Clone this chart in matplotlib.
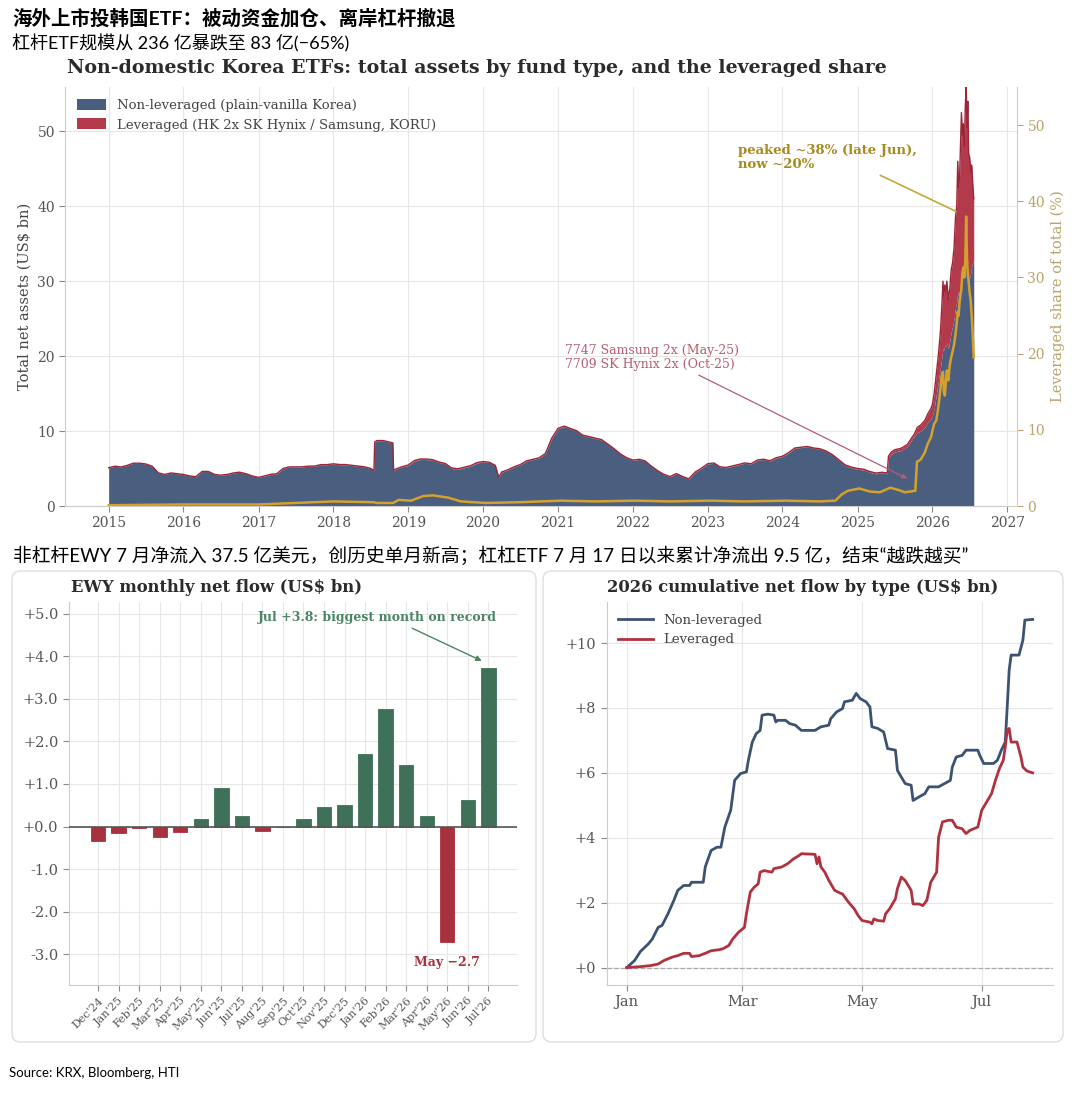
import matplotlib
matplotlib.use("Agg")
import matplotlib.pyplot as plt
import matplotlib.dates as mdates
from matplotlib.patches import FancyBboxPatch
from matplotlib.ticker import FuncFormatter, MultipleLocator
import numpy as np
import pandas as pd

# ── top panel: total net assets, non-domestic Korea ETFs (US$ bn) ──────────
asset_dates = [
    "2015-01", "2015-02", "2015-03", "2015-04", "2015-05", "2015-06",
    "2015-07", "2015-08", "2015-09", "2015-10", "2015-11", "2015-12",
    "2016-01", "2016-02", "2016-03", "2016-04", "2016-05", "2016-06",
    "2016-07", "2016-08", "2016-09", "2016-10", "2016-11", "2016-12",
    "2017-01", "2017-02", "2017-03", "2017-04", "2017-05", "2017-06",
    "2017-07", "2017-08", "2017-09", "2017-10", "2017-11", "2017-12",
    "2018-01", "2018-02", "2018-03", "2018-04", "2018-05", "2018-06",
    "2018-07", "2018-07-18", "2018-07-22", "2018-08", "2018-09", "2018-10",
    "2018-10-18", "2018-10-22", "2018-11", "2018-12",
    "2019-01", "2019-02", "2019-03", "2019-04", "2019-05", "2019-06",
    "2019-07", "2019-08", "2019-09", "2019-10", "2019-11", "2019-12",
    "2020-01", "2020-02", "2020-03", "2020-03-18", "2020-04", "2020-05",
    "2020-06", "2020-07", "2020-08", "2020-09", "2020-10", "2020-11", "2020-12",
    "2021-01", "2021-02", "2021-03", "2021-04", "2021-05", "2021-06",
    "2021-07", "2021-08", "2021-09", "2021-10", "2021-11", "2021-12",
    "2022-01", "2022-02", "2022-03", "2022-04", "2022-05", "2022-06",
    "2022-07", "2022-08", "2022-09", "2022-10", "2022-11", "2022-12",
    "2023-01", "2023-02", "2023-03", "2023-04", "2023-05", "2023-06",
    "2023-07", "2023-08", "2023-09", "2023-10", "2023-11", "2023-12",
    "2024-01", "2024-02", "2024-03", "2024-04", "2024-05", "2024-06",
    "2024-07", "2024-08", "2024-09", "2024-10", "2024-11", "2024-12",
    "2025-01", "2025-02", "2025-03", "2025-04", "2025-05", "2025-05-26",
    "2025-06-01", "2025-06-15", "2025-07", "2025-08", "2025-09", "2025-09-20",
    "2025-10-05", "2025-10-20", "2025-11-05", "2025-11-25", "2025-12-10", "2025-12-25",
    "2026-01-01", "2026-01-10", "2026-01-20", "2026-01-28", "2026-02-04", "2026-02-10",
    "2026-02-16", "2026-02-22", "2026-02-26", "2026-03-03", "2026-03-08", "2026-03-13",
    "2026-03-20", "2026-03-27", "2026-04-03", "2026-04-10", "2026-04-17", "2026-04-24",
    "2026-04-30", "2026-05-05", "2026-05-09", "2026-05-14", "2026-05-19", "2026-05-23",
    "2026-05-27", "2026-06-01", "2026-06-06", "2026-06-11", "2026-06-15", "2026-06-19",
    "2026-06-23", "2026-06-27", "2026-07-02", "2026-07-07", "2026-07-12", "2026-07-17",
    "2026-07-22",
]
nonlev_bn = [
    5.1, 5.3, 5.2, 5.4, 5.7, 5.7, 5.6, 5.3, 4.4, 4.2, 4.4, 4.3,
    4.2, 4.0, 3.9, 4.6, 4.6, 4.2, 4.1, 4.2, 4.4, 4.5, 4.3, 4.0,
    3.8, 4.0, 4.2, 4.3, 5.0, 5.2, 5.2, 5.2, 5.3, 5.3, 5.5, 5.5,
    5.6, 5.5, 5.5, 5.4, 5.3, 5.2, 5.0, 4.7, 8.5, 8.7, 8.7, 8.5, 8.4, 4.7, 4.9, 5.2,
    5.4, 6.0, 6.2, 6.2, 6.1, 5.8, 5.6, 5.0, 4.9, 5.1, 5.3, 5.7,
    5.9, 5.8, 5.4, 3.8, 4.5, 4.8, 5.2, 5.5, 6.0, 6.2, 6.4, 7.0, 9.0,
    10.3, 10.6, 10.3, 10.0, 9.4, 9.2, 9.0, 8.8, 8.2, 7.6, 6.9, 6.4,
    6.1, 6.2, 6.0, 5.3, 4.7, 4.2, 3.9, 4.3, 3.9, 3.6, 4.5, 5.0,
    5.6, 5.7, 5.2, 5.1, 5.3, 5.5, 5.7, 5.6, 6.1, 6.2, 6.0, 6.4,
    6.6, 7.1, 7.7, 7.8, 7.9, 7.7, 7.6, 7.3, 6.8, 6.1, 5.4, 5.1,
    4.9, 4.8, 4.5, 4.3, 4.4, 4.3, 6.4, 6.9, 7.2, 7.4, 7.9, 8.7,
    9.3, 9.8, 10.0, 10.5, 11.2, 11.6,
    12.0, 13.0, 14.8, 16.2, 17.5, 18.5, 19.8, 21.0, 20.8, 21.5, 21.2, 21.8,
    21.0, 22.0, 23.2, 24.0, 25.0, 26.5, 27.2, 28.5, 28.0, 28.8, 29.8, 30.5,
    30.2, 31.0, 30.5, 31.8, 32.3, 31.0, 31.5, 30.0, 30.5, 31.0, 32.0, 32.5,
    32.7,
]
lev_bn = [
    0.01, 0.01, 0.01, 0.01, 0.01, 0.01, 0.01, 0.01, 0.01, 0.01, 0.01, 0.01,
    0.01, 0.01, 0.01, 0.01, 0.01, 0.01, 0.01, 0.01, 0.01, 0.01, 0.01, 0.01,
    0.02, 0.02, 0.02, 0.02, 0.02, 0.02, 0.02, 0.02, 0.02, 0.02, 0.02, 0.02,
    0.03, 0.03, 0.03, 0.03, 0.03, 0.03, 0.03, 0.03, 0.03, 0.03, 0.03, 0.03,
    0.03, 0.03, 0.03, 0.03,
    0.07, 0.07, 0.07, 0.07, 0.07, 0.07, 0.07, 0.07, 0.07, 0.07, 0.07, 0.07,
    0.03, 0.03, 0.03, 0.03, 0.03, 0.03, 0.03, 0.03, 0.03, 0.03, 0.03, 0.03, 0.03,
    0.06, 0.06, 0.06, 0.06, 0.06, 0.06, 0.06, 0.06, 0.06, 0.06, 0.06, 0.06,
    0.03, 0.03, 0.03, 0.03, 0.03, 0.03, 0.03, 0.03, 0.03, 0.03, 0.03, 0.03,
    0.04, 0.04, 0.04, 0.04, 0.04, 0.04, 0.04, 0.04, 0.04, 0.04, 0.04, 0.04,
    0.04, 0.04, 0.04, 0.04, 0.04, 0.04, 0.04, 0.04, 0.04, 0.08, 0.10, 0.10,
    0.10, 0.10, 0.10, 0.10, 0.10, 0.10, 0.25, 0.30, 0.30, 0.30, 0.30, 0.30,
    0.30, 0.70, 0.80, 0.90, 1.10, 1.40,
    1.5, 2.0, 2.7, 3.3, 4.0, 5.0, 6.7, 9.0, 7.2, 8.0, 7.3, 8.2,
    6.5, 7.0, 8.3, 8.5, 9.5, 12.0, 12.8, 17.5, 14.5, 15.2, 18.7, 22.0,
    19.3, 20.0, 17.5, 21.7, 23.6, 19.5, 22.5, 17.0, 16.0, 13.5, 13.5, 10.5,
    8.3,
]
share_dates = [
    "2015-01-01", "2016-01-01", "2017-01-01", "2017-07-01", "2018-01-01",
    "2018-07-15", "2018-08-01", "2018-10-20", "2018-11-15", "2019-01-15",
    "2019-03-15", "2019-05-01", "2019-07-15", "2019-09-15", "2020-01-15",
    "2020-07-01", "2021-01-15", "2021-07-01", "2022-01-15", "2022-07-01",
    "2023-01-15", "2023-07-01", "2024-01-15", "2024-07-01", "2024-09-15",
    "2024-10-15", "2024-11-15", "2025-01-10", "2025-03-01", "2025-04-20",
    "2025-06-10", "2025-07-20", "2025-08-20", "2025-10-10", "2025-10-18",
    "2025-11-05", "2025-11-25", "2025-12-10", "2025-12-25", "2026-01-10",
    "2026-01-20", "2026-01-28", "2026-02-04", "2026-02-10", "2026-02-16",
    "2026-02-22", "2026-02-26", "2026-03-03", "2026-03-08", "2026-03-13",
    "2026-03-20", "2026-03-27", "2026-04-03", "2026-04-10", "2026-04-17",
    "2026-04-24", "2026-04-30", "2026-05-05", "2026-05-09", "2026-05-14",
    "2026-05-19", "2026-05-23", "2026-05-27", "2026-06-01", "2026-06-06",
    "2026-06-11", "2026-06-15", "2026-06-19", "2026-06-23", "2026-06-27",
    "2026-07-02", "2026-07-07", "2026-07-12", "2026-07-17", "2026-07-22",
]
share_pct = [
    0.1, 0.2, 0.2, 0.4, 0.6,
    0.5, 0.4, 0.4, 0.8, 0.7,
    1.3, 1.4, 1.1, 0.6, 0.4,
    0.5, 0.7, 0.6, 0.7, 0.6,
    0.7, 0.6, 0.7, 0.6, 0.7,
    1.5, 2.0, 2.3, 1.9, 1.8,
    2.4, 2.1, 1.8, 2.0, 5.8,
    6.1, 7.0, 8.2, 9.0, 10.8,
    11.2, 12.5, 14.0, 15.5, 17.2,
    17.6, 15.0, 14.5, 16.3, 17.8,
    16.5, 18.5, 19.5, 20.3, 21.2,
    22.5, 24.0, 25.5, 25.0, 26.8,
    27.8, 28.5, 30.5, 31.3, 30.0,
    32.5, 38.0, 32.5, 30.5, 29.5,
    28.0, 27.0, 25.0, 22.5, 19.5,
]

# ── bottom-left: EWY monthly net flow (US$ bn) ─────────────────────────────
flow_months = ["Dec'24", "Jan'25", "Feb'25", "Mar'25", "Apr'25", "May'25",
               "Jun'25", "Jul'25", "Aug'25", "Sep'25", "Oct'25", "Nov'25",
               "Dec'25", "Jan'26", "Feb'26", "Mar'26", "Apr'26", "May'26",
               "Jun'26", "Jul'26"]
flow_bn = [-0.35, -0.15, -0.04, -0.25, -0.13, 0.17, 0.90, 0.25, -0.10, 0.0,
           0.17, 0.45, 0.50, 1.71, 2.77, 1.45, 0.24, -2.70, 0.63, 3.72]

# ── bottom-right: 2026 cumulative net flow (days since 1 Jan, US$ bn) ──────
nonlev_day = [0, 4, 7, 11, 13, 16, 18, 21, 24, 26, 29, 32, 33, 39, 40, 43, 46,
              48, 50, 53, 55, 58, 61, 62, 64, 66, 68, 69, 72, 75, 76, 77, 81,
              83, 86, 89, 96, 99, 103, 104, 107, 110, 111, 115, 117, 119, 122,
              124, 125, 128, 131, 133, 137, 138, 140, 142, 145, 146, 149, 152,
              154, 159, 162, 165, 166, 168, 171, 173, 179, 180, 182, 187, 189,
              191, 193, 194, 195, 196, 200, 202, 203, 207]
nonlev_cum = [0.00, 0.22, 0.50, 0.73, 0.88, 1.24, 1.30, 1.66, 2.07, 2.38, 2.53,
              2.53, 2.63, 2.63, 3.10, 3.61, 3.71, 3.71, 4.33, 4.85, 5.77, 5.98,
              6.03, 6.39, 6.95, 7.21, 7.31, 7.78, 7.81, 7.78, 7.57, 7.62, 7.62,
              7.52, 7.47, 7.31, 7.31, 7.42, 7.47, 7.67, 7.88, 7.98, 8.19, 8.24,
              8.45, 8.29, 8.19, 8.03, 7.42, 7.37, 7.26, 6.75, 6.70, 6.08, 5.87,
              5.67, 5.62, 5.15, 5.26, 5.36, 5.57, 5.57, 5.67, 5.77, 6.18, 6.49,
              6.54, 6.70, 6.70, 6.54, 6.29, 6.29, 6.39, 6.70, 6.95, 8.03, 9.17,
              9.63, 9.63, 10.09, 10.71, 10.73]
lev_day = [0, 7, 12, 16, 19, 23, 26, 29, 32, 33, 37, 40, 43, 47, 49, 52, 54,
           57, 60, 61, 63, 65, 67, 68, 70, 74, 75, 79, 82, 85, 88, 89, 96, 97,
           98, 99, 101, 103, 106, 109, 110, 113, 116, 118, 120, 124, 125, 126,
           128, 131, 132, 134, 137, 138, 140, 142, 145, 146, 149, 151, 153,
           155, 158, 159, 161, 164, 166, 168, 171, 173, 175, 179, 181, 183,
           186, 188, 190, 192, 193, 194, 195, 196, 199, 201, 202, 204, 207]
lev_cum = [0.00, 0.03, 0.06, 0.11, 0.22, 0.32, 0.37, 0.44, 0.44, 0.34, 0.37,
           0.44, 0.52, 0.55, 0.58, 0.68, 0.88, 1.09, 1.24, 1.66, 2.33, 2.48,
           2.58, 2.94, 2.99, 2.94, 3.05, 3.10, 3.20, 3.35, 3.46, 3.51, 3.49,
           3.20, 3.41, 3.10, 2.94, 2.69, 2.38, 2.29, 2.27, 2.02, 1.81, 1.60,
           1.45, 1.40, 1.35, 1.50, 1.45, 1.43, 1.66, 1.81, 2.12, 2.43, 2.79,
           2.68, 2.38, 1.96, 1.96, 1.91, 2.07, 2.63, 2.94, 4.02, 4.49, 4.54,
           4.54, 4.33, 4.28, 4.13, 4.23, 4.33, 4.85, 5.05, 5.36, 5.77, 6.13,
           6.39, 6.80, 7.31, 7.37, 6.95, 6.95, 6.49, 6.18, 6.06, 6.00]

# ── palette ─────────────────────────────────────────────────────────────────
NAVY = "#4a5e80"
RED = "#b23a4b"
RED_EDGE = "#9c2637"
GOLD = "#d4a12a"
GOLD_TXT = "#a8891f"
GOLD_AX = "#b8a46a"
ROSE = "#b35f70"
GREEN = "#3f7058"
GREEN_TXT = "#4b8564"
BAR_RED = "#a8313f"
LINE_NAVY = "#3b5273"
LINE_RED = "#b0323f"
TXT = "#2b2b2b"
TICK = "#555555"
GRID = "#e7e7e7"
SPINE = "#cccccc"

CJK = ["Lato", "Noto Sans CJK SC", "DejaVu Sans"]
plt.rcParams["font.family"] = "DejaVu Serif"

W, H = 1080, 1093
fig = plt.figure(figsize=(W / 100, H / 100), dpi=100)


def fx(px):
    return px / W


def fy(py):
    return 1 - py / H


def style_axes(ax, hide=("top", "right")):
    for side in hide:
        ax.spines[side].set_visible(False)
    for side in ("left", "bottom", "right", "top"):
        ax.spines[side].set_color(SPINE)
    ax.grid(True, color=GRID, lw=0.8)
    ax.set_axisbelow(True)
    ax.tick_params(colors=TICK, labelsize=10, length=4, width=0.8)
    ax.tick_params(color="#8a8a8a")


# ── cards behind the two lower panels ───────────────────────────────────────
for x0, x1 in [(12, 536), (543, 1063)]:
    card = FancyBboxPatch((fx(x0), fy(1042)), fx(x1 - x0), (1042 - 571) / H,
                          boxstyle="round,pad=0,rounding_size=0.008",
                          transform=fig.transFigure, facecolor="white",
                          edgecolor="#dedede", lw=1.0, zorder=-5)
    fig.patches.append(card)

# ── headings ────────────────────────────────────────────────────────────────
fig.text(fx(12), fy(18), "海外上市投韩国ETF：被动资金加仓、离岸杠杆撤退",
         family=CJK, fontsize=14, fontweight="bold", va="center", color="black")
fig.text(fx(12), fy(43), "杠杆ETF规模从 236 亿暴跌至 83 亿(−65%)",
         family=CJK, fontsize=13, va="center", color="black")
fig.text(fx(13), fy(555),
         "非杠杆EWY 7 月净流入 37.5 亿美元，创历史单月新高；杠杠ETF 7 月 17 日以来累计净流出 9.5 亿，结束“越跌越买”",
         family=CJK, fontsize=13.5, va="center", color="black")
fig.text(fx(9), fy(1073), "Source: KRX, Bloomberg, HTI", family=CJK,
         fontsize=9.5, va="center", color="black")

# ── top panel ───────────────────────────────────────────────────────────────
ax = fig.add_axes([fx(65.4), fy(506), fx(1017 - 65.4), (506 - 87) / H])
d = pd.to_datetime(asset_dates, format="ISO8601")
nonlev = np.array(nonlev_bn)
total = nonlev + np.array(lev_bn)
ax.fill_between(d, 0, nonlev, color=NAVY, lw=0,
                label="Non-leveraged (plain-vanilla Korea)")
ax.fill_between(d, nonlev, total, color=RED, lw=0,
                label="Leveraged (HK 2x SK Hynix / Samsung, KORU)")
ax.plot(d, total, color=RED_EDGE, lw=1.0)
ax.set_ylim(0, total.max())
ax.margins(x=0.05)
style_axes(ax)
ax.xaxis.set_major_locator(mdates.YearLocator())
ax.xaxis.set_major_formatter(mdates.DateFormatter("%Y"))
ax.set_ylabel("Total net assets (US$ bn)", fontsize=10.5, color="#444444")
ax.legend(loc="upper left", frameon=False, fontsize=9.5, labelcolor="#444444",
          handlelength=2.2, handleheight=0.9)

ax2 = ax.twinx()
ax2.plot(pd.to_datetime(share_dates, format="ISO8601"), share_pct,
         color=GOLD, lw=1.8)
ax2.set_ylim(0, 55)
for side in ("left", "top", "bottom"):
    ax2.spines[side].set_visible(False)
ax2.spines["right"].set_color(SPINE)
ax2.tick_params(axis="y", colors=GOLD_AX, labelsize=10, length=4, width=0.8)
ax2.set_ylabel("Leveraged share of total (%)", fontsize=10.5, color=GOLD_AX)

ax.annotate("7747 Samsung 2x (May-25)\n7709 SK Hynix 2x (Oct-25)",
            xy=(pd.Timestamp("2025-09-12"), 3.5),
            xytext=(pd.Timestamp("2021-02-06"), 19.8),
            ha="left", va="center", fontsize=9, color=ROSE, linespacing=1.1,
            arrowprops=dict(arrowstyle="-|>", color=ROSE, lw=0.9,
                            mutation_scale=7, relpos=(0.72, 0.0)))
ax2.annotate("peaked ~38% (late Jun),\nnow ~20%",
             xy=(pd.Timestamp("2026-05-10"), 38.5),
             xytext=(pd.Timestamp("2023-05-28"), 45.7),
             ha="left", va="center", fontsize=9.5, fontweight="bold",
             color=GOLD_TXT, linespacing=1.1,
             arrowprops=dict(arrowstyle="-", color="#c9a53a", lw=1.2,
                             relpos=(0.75, 0.0)))

fig.text(fx(67), fy(68),
         "Non-domestic Korea ETFs: total assets by fund type, and the leveraged share",
         fontsize=13.7, fontweight="bold", va="center", color=TXT)

# ── bottom-left: EWY monthly flow ───────────────────────────────────────────
axb = fig.add_axes([fx(68.9), fy(985), fx(516.5 - 68.9), (985 - 602) / H])
xb = np.arange(len(flow_months))
bar_cols = [GREEN if v >= 0 else BAR_RED for v in flow_bn]
axb.bar(xb, flow_bn, width=0.7, color=bar_cols, edgecolor=bar_cols, lw=0.6,
        zorder=3)
axb.axhline(0, color="#555555", lw=1.2, zorder=4)
style_axes(axb)
axb.set_xticks(xb, flow_months, rotation=45, ha="right",
               rotation_mode="anchor", fontsize=8)
axb.set_xlim(-1.42, 20.37)
axb.set_ylim(-3.72, 5.27)
axb.yaxis.set_major_locator(MultipleLocator(1))
axb.yaxis.set_major_formatter(
    FuncFormatter(lambda v, _: f"{(0.0 if abs(v) < 1e-9 else v):+.1f}"))
axb.tick_params(axis="y", labelsize=10.5)
axb.annotate("Jul +3.8: biggest month on record", xy=(18.8, 3.86),
             xytext=(13.6, 4.9), ha="center", va="center", fontsize=9,
             fontweight="bold", color=GREEN_TXT,
             arrowprops=dict(arrowstyle="-|>", color=GREEN_TXT, lw=1.0,
                             mutation_scale=8, relpos=(0.61, 0.0)))
axb.text(17, -3.19, "May −2.7", ha="center", va="center", fontsize=9,
         fontweight="bold", color=BAR_RED)
fig.text(fx(70.6), fy(588), "EWY monthly net flow (US$ bn)", fontsize=11.8,
         fontweight="bold", va="center", color=TXT)

# ── bottom-right: 2026 cumulative flow ──────────────────────────────────────
axc = fig.add_axes([fx(606.5), fy(985), fx(1053 - 606.5), (985 - 602) / H])
t0 = pd.Timestamp("2026-01-01")
axc.plot(t0 + pd.to_timedelta(nonlev_day, unit="D"), nonlev_cum,
         color=LINE_NAVY, lw=2.0, label="Non-leveraged")
axc.plot(t0 + pd.to_timedelta(lev_day, unit="D"), lev_cum,
         color=LINE_RED, lw=2.0, label="Leveraged")
axc.axhline(0, color="#aaaaaa", lw=0.9, ls="--", zorder=1)
style_axes(axc)
axc.xaxis.set_major_locator(mdates.MonthLocator(bymonth=[1, 3, 5, 7]))
axc.xaxis.set_major_formatter(mdates.DateFormatter("%b"))
axc.yaxis.set_major_locator(MultipleLocator(2))
axc.yaxis.set_major_formatter(FuncFormatter(lambda v, _: f"{v:+.0f}"))
axc.tick_params(labelsize=10.5)
axc.legend(loc="upper left", frameon=False, fontsize=9.5, labelcolor="#444444",
           handlelength=2.6)
fig.text(fx(607), fy(588), "2026 cumulative net flow by type (US$ bn)",
         fontsize=11.8, fontweight="bold", va="center", color=TXT)

fig.savefig("out.png", dpi=100, facecolor="white")
